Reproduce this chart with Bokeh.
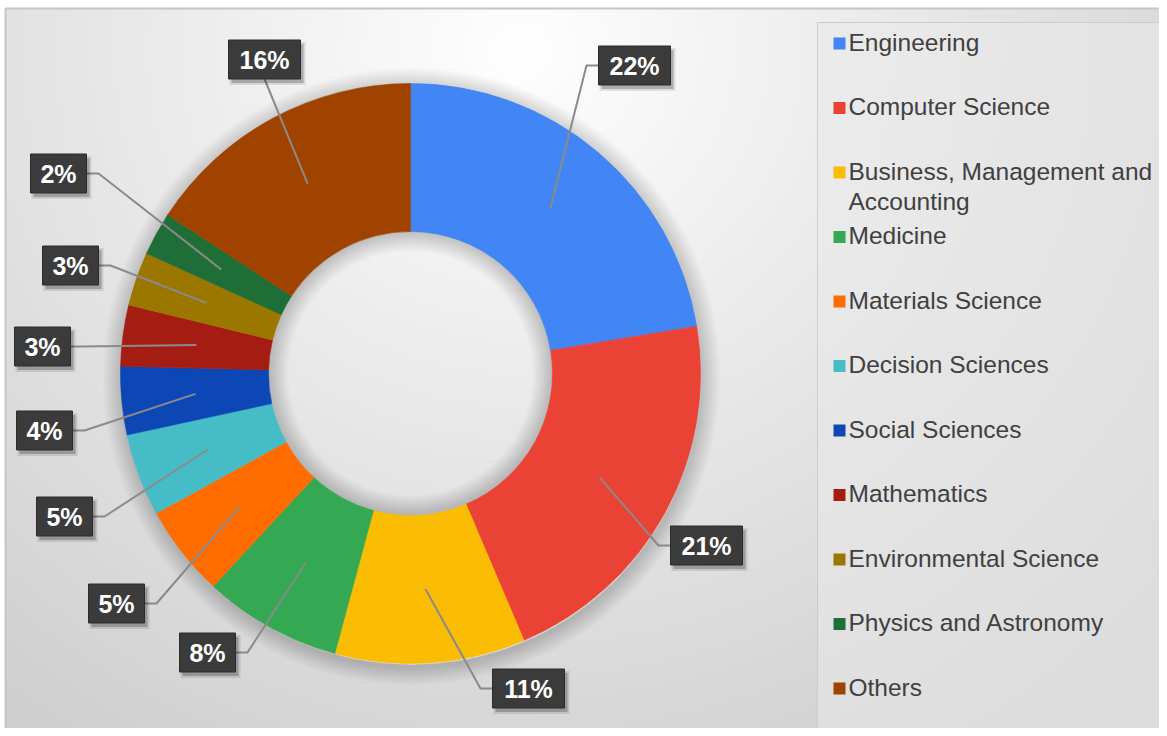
import numpy as np
from bokeh.plotting import figure
from bokeh.models import Range1d, ColumnDataSource
from bokeh.embed import file_html
from bokeh.resources import INLINE
from bokeh.core.properties import value

# ---------------- data ----------------
categories = ["Engineering", "Computer Science", "Business, Management and Accounting",
              "Medicine", "Materials Science", "Decision Sciences", "Social Sciences",
              "Mathematics", "Environmental Science", "Physics and Astronomy", "Others"]
shares = [22.4, 21.2, 10.6, 7.7, 5.1, 4.6, 3.8, 3.4, 3.0, 2.4, 15.8]
legend_text = ["Engineering", "Computer Science", "Business, Management and\nAccounting",
               "Medicine", "Materials Science", "Decision Sciences", "Social Sciences",
               "Mathematics", "Environmental Science", "Physics and Astronomy", "Others"]

# ---------------- styles / layout ----------------
colors = ["#4285F4", "#EA4335", "#FBBC04", "#34A853", "#FF6D01", "#46BDC6",
          "#0D47B5", "#A51C13", "#9C7700", "#1F6E37", "#A04300"]
W, H = 1159, 728
X0, X1, Y0, Y1 = 0, 1159, 8, 736


def Y(yref):  # reference-pixel row -> data y
    return 736 - yref


cx, cy = 410, Y(373)
r_in, r_out = 142, 290

# label box centres (reference pixel coordinates) and attachment side
label_pos = [(634, 65, "left"), (706, 545, "left"), (528, 688, "left"), (207, 652, "right"),
             (116, 603, "right"), (64, 516, "right"), (44, 430, "right"), (42, 346, "right"),
             (70, 265, "right"), (58, 173, "right"), (264, 59, "bottom")]

p = figure(width=W, height=H, x_range=Range1d(X0, X1), y_range=Range1d(Y0, Y1),
           output_backend="svg", toolbar_location=None, min_border=0)
p.axis.visible = False
p.grid.visible = False
p.outline_line_color = None
p.background_fill_color = "white"
p.border_fill_color = "white"

# ---------------- background gradient ----------------
BX0, BX1, BY0, BY1 = 5, X1, 0, Y(8)
GH, GW = 364, 577
gx = BX0 + (np.arange(GW) + 0.5) * (BX1 - BX0) / GW
gy_data = BY0 + (np.arange(GH) + 0.5) * (BY1 - BY0) / GH
gy_ref = 736 - gy_data
XX, YY = np.meshgrid(gx, gy_ref)
d = np.hypot(XX - 520, (YY - 50) * 1.05)
v = np.clip(255 - 0.056 * d, 206, 255).astype(np.uint8)
img = np.empty((GH, GW), dtype=np.uint32)
view = img.view(dtype=np.uint8).reshape((GH, GW, 4))
view[..., 0] = v
view[..., 1] = v
view[..., 2] = v
view[..., 3] = 255
p.image_rgba(image=[img], x=BX0, y=BY0, dw=BX1 - BX0, dh=BY1 - BY0)
p.quad(left=BX0, right=1175, top=BY1, bottom=-20, fill_color=None,
       line_color="#c6c6c6", line_width=2)

# legend panel
p.quad(left=817, right=1161, top=Y(22), bottom=Y(734), fill_color="#e9e9e9", fill_alpha=0.55,
       line_color="#cdcdcd", line_width=1)

# ---------------- donut shadow ----------------
for k in range(14):
    p.annulus(x=cx + 1, y=cy - 3, inner_radius=r_out - 2, outer_radius=r_out + 2 + k * 1.3,
              fill_color="black", fill_alpha=0.012, line_color=None)
for k in range(12):
    p.annulus(x=cx, y=cy, inner_radius=r_in - 2 - k * 1.6, outer_radius=r_in + 1,
              fill_color="black", fill_alpha=0.014, line_color=None)

# ---------------- donut ----------------
total = float(sum(shares))
cum = np.concatenate([[0.0], np.cumsum(shares)]) / total * 2 * np.pi
theta0, theta1 = cum[:-1], cum[1:]
src = ColumnDataSource(dict(start=np.pi / 2 - theta1, end=np.pi / 2 - theta0,
                            color=colors, cat=categories))
p.annular_wedge(x=cx, y=cy, inner_radius=r_in, outer_radius=r_out, start_angle="start",
                end_angle="end", fill_color="color", line_color="color", line_width=0.6,
                source=src)

# ---------------- leader lines and labels ----------------
mid = (theta0 + theta1) / 2
r_mid = (r_in + r_out) / 2
ax = cx + r_mid * np.sin(mid)
ay = cy + r_mid * np.cos(mid)
labels = [f"{int(s + 0.5)}%" for s in shares]

lx, ly, bw, bh, xs, ys = [], [], [], [], [], []
for i, (bx, byr, side) in enumerate(label_pos):
    by = Y(byr)
    w = 16 * len(labels[i]) + 24
    h = 39
    lx.append(bx); ly.append(by); bw.append(w); bh.append(h)
    if side == "left":
        e = bx - w / 2
        xs.append([ax[i], e - 12, e]); ys.append([ay[i], by, by])
    elif side == "right":
        e = bx + w / 2
        xs.append([ax[i], e + 12, e]); ys.append([ay[i], by, by])
    else:
        xs.append([ax[i], bx]); ys.append([ay[i], by - h / 2])

p.multi_line(xs=xs, ys=ys, line_color="#8a8a8a", line_width=2)

lsrc = ColumnDataSource(dict(x=lx, y=ly, w=bw, h=bh, t=labels,
                             xs=[a + 3 for a in lx], ys=[b - 4 for b in ly],
                             w2=[a + 4 for a in bw], h2=[b + 4 for b in bh]))
p.rect(x="xs", y="ys", width="w2", height="h2", fill_color="black", fill_alpha=0.10,
       line_color=None, source=lsrc)
p.rect(x="xs", y="ys", width="w", height="h", fill_color="black", fill_alpha=0.22,
       line_color=None, source=lsrc)
p.rect(x="x", y="y", width="w", height="h", fill_color="#3b3b3b", line_color="#2b2b2b",
       line_width=1, source=lsrc)
p.text(x="x", y="y", text="t", text_align="center", text_baseline="middle",
       text_font=value("Liberation Sans"), text_font_style="bold", text_font_size="25px",
       text_color="white", source=lsrc)

# ---------------- legend ----------------
leg_y = [Y(43 + i * 64.5) for i in range(len(categories))]
p.rect(x=839, y=leg_y, width=12, height=12, fill_color=colors, line_color=None)
p.text(x=848, y=[yy + 15 for yy in leg_y], text=legend_text, text_align="left",
       text_baseline="top", text_font=value("Liberation Sans"), text_font_size="24.5px",
       text_color="#404040", text_line_height=1.12)

open("out.html", "w").write(file_html(p, INLINE))
